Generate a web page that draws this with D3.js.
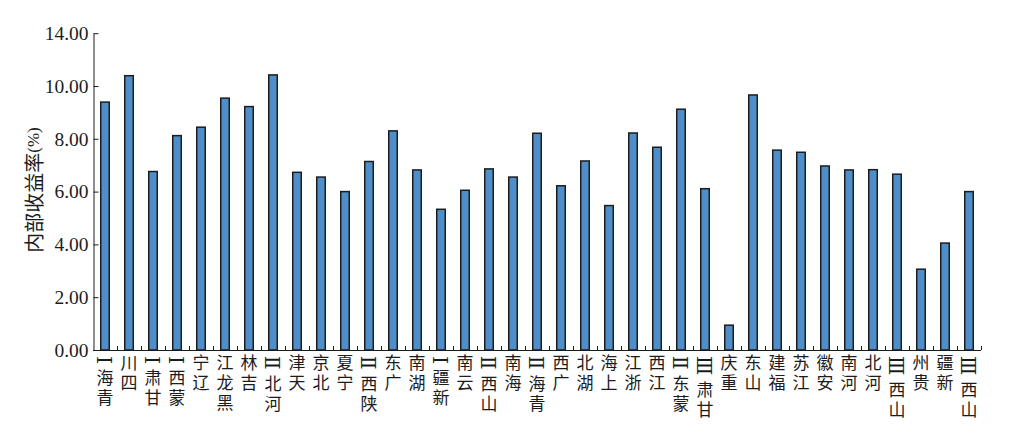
<!DOCTYPE html>
<html>
<head>
<meta charset="utf-8">
<script src="https://cdn.jsdelivr.net/npm/d3@7"></script>
<style>
  html, body { margin: 0; padding: 0; background: #fff; }
  svg { display: block; }
</style>
</head>
<body>
<svg id="chart" width="1022" height="436"></svg>
<script>
const categories = ["青海Ⅰ","四川","甘肃Ⅰ","蒙西Ⅰ","辽宁","黑龙江","吉林","河北Ⅱ","天津","北京","宁夏","陕西Ⅱ","广东","湖南","新疆Ⅰ","云南","山西Ⅱ","海南","青海Ⅱ","广西","湖北","上海","浙江","江西","蒙东Ⅱ","甘肃Ⅲ","重庆","山东","福建","江苏","安徽","河南","河北","山西Ⅲ","贵州","新疆","山西Ⅲ"];
const irrValues = [9.39,10.39,6.76,8.12,8.44,9.54,9.22,10.42,6.73,6.55,6.00,7.14,8.30,6.82,5.33,6.05,6.86,6.55,8.21,6.22,7.16,5.47,8.22,7.68,9.12,6.11,0.94,9.66,7.57,7.49,6.97,6.82,6.83,6.66,3.06,4.05,6.00];
const yTickValues = [0,2,4,6,8,10,12];
const yTickLabels = ["0.00","2.00","4.00","6.00","8.00","10.00","14.00"];
const yTitleMain = "内部收益率";
const yTitleUnit = "(%)";

(function () {
const svg = d3.select("#chart");
const mLeft = 93.5, mRight = 981, mTop = 33.2, mBottom = 350;
const ink = "#1c1c1c";

const x = d3.scaleBand().domain(d3.range(categories.length)).range([93, mRight]).padding(0);
const y = d3.scaleLinear().domain([0, 12]).range([mBottom, mTop]);

// bars
const barW = 8.5;
svg.append("g").selectAll("rect").data(irrValues).join("rect")
  .attr("x", (d, i) => x(i) + x.bandwidth() / 2 - barW / 2)
  .attr("y", d => y(d))
  .attr("width", barW)
  .attr("height", d => y(0) - y(d))
  .attr("fill", "#4f8fc9")
  .attr("stroke", ink)
  .attr("stroke-width", 1.5);

// y axis
const yAxis = d3.axisLeft(y)
  .tickValues(yTickValues)
  .tickFormat((d, i) => yTickLabels[i])
  .tickSizeInner(-5).tickSizeOuter(0).tickPadding(5);
const gy = svg.append("g").attr("transform", `translate(${mLeft},0)`).call(yAxis);
gy.select(".domain").attr("stroke", ink);
gy.selectAll(".tick line").attr("stroke", ink);
gy.selectAll(".tick text")
  .attr("fill", ink)
  .style("font-family", "'Liberation Serif', 'Times New Roman', serif")
  .style("font-size", "19.5px");

// x axis: baseline with upward ticks at band boundaries
const gx = svg.append("g");
gx.append("line").attr("x1", x.range()[0]).attr("x2", x.range()[1])
  .attr("y1", mBottom + 0.5).attr("y2", mBottom + 0.5).attr("stroke", ink);
gx.selectAll("line.tk").data(d3.range(1, categories.length + 1)).join("line")
  .attr("class", "tk")
  .attr("x1", i => x(i - 1) + x.bandwidth() + 0.5)
  .attr("x2", i => x(i - 1) + x.bandwidth() + 0.5)
  .attr("y1", mBottom).attr("y2", mBottom - 4)
  .attr("stroke", ink);

// x labels: each label is one text rotated -90 (reads bottom to top);
// Chinese glyphs are turned back upright, Roman numerals stay sideways.
const fs = 17;
const rfs = 20;
const labelFont = "'DejaVu Serif', 'Noto Sans CJK SC', serif";
const probe = svg.append("text").style("font-family", labelFont).style("font-size", rfs + "px");
const adv = c => { probe.text(c); return probe.node().getComputedTextLength(); };
const capH = rfs * 0.73;
const isRoman = c => /[\u2160-\u216F]/.test(c);

const labelG = svg.append("g");
categories.forEach((lab, i) => {
  const cx = x(i) + x.bandwidth() / 2;
  const chars = Array.from(lab);
  const screenTop = new Array(chars.length);
  let cur = 353;
  for (let k = chars.length - 1; k >= 0; k--) {
    const c = chars[k];
    if (isRoman(c)) {
      const w = adv(c);
      screenTop[k] = cur + 3;
      cur += w + 7;
    } else {
      screenTop[k] = cur + 1.5;
      cur += 20;
    }
  }
  const xs = [], ys = [], rs = [];
  chars.forEach((c, k) => {
    if (isRoman(c)) {
      const w = adv(c);
      xs.push(-(screenTop[k] + w));
      ys.push(capH / 2);
      rs.push(0);
    } else {
      xs.push(-screenTop[k] - fs * 0.88);
      ys.push(-fs / 2);
      rs.push(90);
    }
  });
  const t = labelG.append("text")
    .attr("transform", `translate(${cx},0) rotate(-90)`)
    .attr("x", xs.map(v => v.toFixed(2)).join(" "))
    .attr("y", ys.map(v => v.toFixed(2)).join(" "))
    .attr("rotate", rs.join(" "))
    .attr("fill", ink)
    .style("font-family", labelFont)
    .style("font-size", fs + "px");
  const cjkPart = chars.filter(c => !isRoman(c)).join("");
  const romanPart = chars.filter(isRoman).join("");
  t.append("tspan").text(cjkPart);
  if (romanPart) t.append("tspan").style("font-size", rfs + "px").text(romanPart);
});
probe.remove();

// y title
const title = svg.append("text")
  .attr("transform", `translate(33,190) rotate(-90)`)
  .attr("text-anchor", "middle")
  .attr("dominant-baseline", "central")
  .attr("fill", ink);
title.append("tspan").text(yTitleMain)
  .style("font-family", "'Noto Sans CJK SC', sans-serif").style("font-size", "20px");
title.append("tspan").text(yTitleUnit)
  .style("font-family", "'Liberation Serif', serif").style("font-size", "17px");
})();
</script>
</body>
</html>
